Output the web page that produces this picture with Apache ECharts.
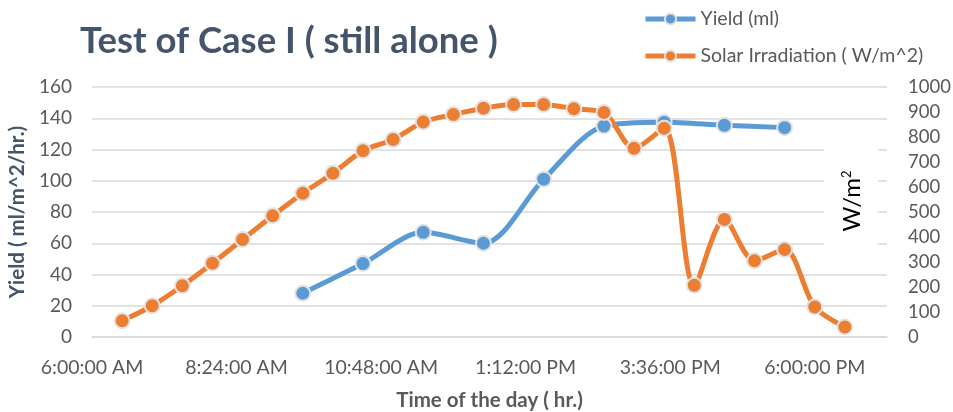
<!DOCTYPE html>
<html>
<head>
<meta charset="utf-8">
<script src="https://cdn.jsdelivr.net/npm/echarts@6/dist/echarts.min.js"></script>
<style>html,body{margin:0;padding:0;background:#fff}#c{width:953px;height:412px}</style>
</head>
<body>
<div id="c"></div>
<script>
// Data
const solarTimes = ['6:30','7:00','7:30','8:00','8:30','9:00','9:30','10:00','10:30','11:00','11:30','12:00','12:30','13:00','13:30','14:00','14:30','15:00','15:30','16:00','16:30','17:00','17:30','18:00','18:30'];
const solarValues = [65,125,205,295,390,485,575,655,745,790,860,890,915,930,930,913,898,755,835,207,470,305,350,120,40];
const yieldTimes = ['9:30','10:30','11:30','12:30','13:30','14:30','15:30','16:30','17:30'];
const yieldValues = [28,47,67,60,101,135,137.5,135.5,134];
const xTickLabels = ['6:00:00 AM','8:24:00 AM','10:48:00 AM','1:12:00 PM','3:36:00 PM','6:00:00 PM'];

// minutes since 6:00 AM
function toMin(t){const p=t.split(':');return (+p[0])*60+(+p[1])-360;}
const solarData = solarTimes.map((t,i)=>[toMin(t),solarValues[i]]);
const yieldData = yieldTimes.map((t,i)=>[toMin(t),yieldValues[i]]);

const FONT = 'Lato';
const chart = echarts.init(document.getElementById('c'));
chart.setOption({
  animation:false,
  textStyle:{fontFamily:FONT},
  title:{text:'Test of Case I ( still alone )',left:75,top:18,
    textStyle:{fontFamily:FONT,fontSize:36.5,fontWeight:'bold',color:'#44546A'}},
  legend:{orient:'vertical',left:643,top:9,padding:0,itemWidth:50,itemHeight:14,itemGap:17,
    textStyle:{fontFamily:FONT,fontSize:19.5,color:'#595959'},
    lineStyle:{width:5},
    data:['Yield (ml)','Solar Irradiation ( W/m^2)']},
  grid:{left:92,right:66,top:87,bottom:75,containLabel:false,outerBoundsMode:'none'},
  graphic:[{type:'text',x:851,y:201,rotation:Math.PI/2,z:1,
    style:{text:'W/m{s|2}',fontFamily:FONT,fontSize:24,fill:'#000',align:'center',verticalAlign:'middle',
      backgroundColor:'#fff',padding:[16,22,14,22],
      rich:{s:{fontFamily:FONT,fontSize:13,fill:'#000',verticalAlign:'top',padding:[0,0,10,0]}}}}],
  xAxis:{type:'value',min:0,max:792,interval:144,
    axisLine:{show:true,lineStyle:{color:'#D9D9D9',width:1.5}},
    axisTick:{show:false},splitLine:{show:false},
    axisLabel:{margin:21,fontSize:19.5,color:'#595959',showMaxLabel:false,
      formatter:v=>{const i=v/144;return Number.isInteger(i)&&xTickLabels[i]?xTickLabels[i]:'';}},
    name:'Time of the day ( hr.)',nameLocation:'middle',nameGap:53,
    nameTextStyle:{fontSize:20.5,fontWeight:'bold',color:'#595959'}},
  yAxis:[{type:'value',min:0,max:160,interval:20,
      axisLine:{show:false},axisTick:{show:false},
      splitLine:{lineStyle:{color:'#D9D9D9',width:1.5}},
      axisLabel:{margin:20,fontSize:19,color:'#595959'},
      name:'Yield ( ml/m^2/hr.)',nameLocation:'middle',nameGap:52,
      nameTextStyle:{fontSize:20.5,fontWeight:'bold',color:'#44546A'}},
    {type:'value',min:0,max:1000,interval:100,position:'right',
      axisLine:{show:false},axisTick:{show:false},splitLine:{show:false},
      axisLabel:{margin:21,fontSize:18.5,color:'#595959',align:'left',formatter:v=>String(v)}}],
  series:[
    {name:'Yield (ml)',type:'line',yAxisIndex:0,data:yieldData,smooth:0.3,
      symbol:'circle',symbolSize:15,
      lineStyle:{color:'#5B9BD5',width:5},
      itemStyle:{color:'#5B9BD5',borderColor:'#E3E3E3',borderWidth:2}},
    {name:'Solar Irradiation ( W/m^2)',type:'line',yAxisIndex:1,data:solarData,smooth:0.3,
      symbol:'circle',symbolSize:15,
      lineStyle:{color:'#ED7D31',width:5},
      itemStyle:{color:'#ED7D31',borderColor:'#E3E3E3',borderWidth:2}}
  ]
});
</script>
</body>
</html>
